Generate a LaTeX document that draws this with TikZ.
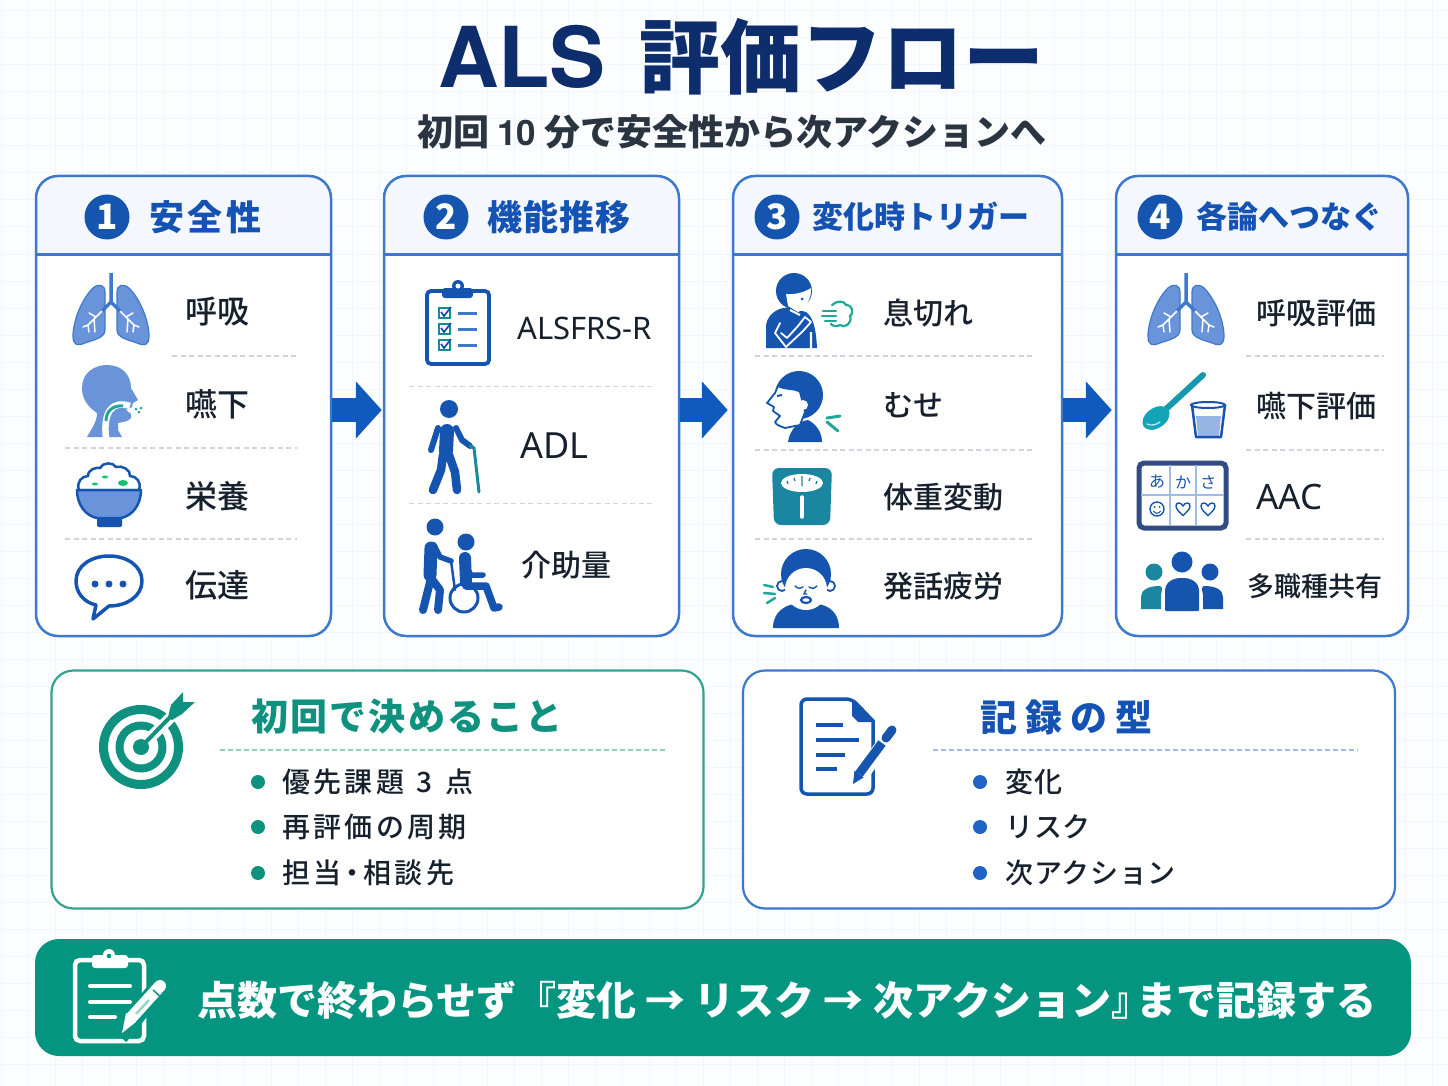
\documentclass[tikz,border=0pt]{standalone}
\usepackage{fontspec}
\setmainfont{Noto Sans CJK JP}
\newfontfamily\midfont{Noto Sans CJK JP Medium}
\newfontfamily\latinfont{Noto Sans}
\newfontfamily\herosfont{TeX Gyre Heros}
\usetikzlibrary{arrows.meta}

\definecolor{page_bg}{HTML}{FCFDFF}
\definecolor{page_grid}{HTML}{F1F5FC}
\definecolor{card_blue}{HTML}{3C79CC}
\definecolor{head_tint}{HTML}{F4F7FD}
\definecolor{head_blue}{HTML}{1453B4}
\definecolor{title_navy}{HTML}{0D2D6C}
\definecolor{body_ink}{HTML}{17212E}
\definecolor{sub_ink}{HTML}{2B3542}
\definecolor{rule_grey}{HTML}{CDD5DF}
\definecolor{flow_blue}{HTML}{1059BD}
\definecolor{icon_dark}{HTML}{1555B0}
\definecolor{icon_mid}{HTML}{6A94D9}
\definecolor{icon_teal}{HTML}{1FA898}
\definecolor{scale_teal}{HTML}{1A86A0}
\definecolor{goal_green}{HTML}{0F917F}
\definecolor{band_green}{HTML}{049581}
\definecolor{dash_green}{HTML}{8FCFC3}
\definecolor{dash_blue}{HTML}{9CBDEB}
\definecolor{dot_blue}{HTML}{1F63C4}

\newcommand{\fsize}[1]{\fontsize{#1}{#1}\selectfont}
\newcommand{\lunghalf}{
  \fill[icon_mid,draw=card_blue,line width=1.2pt] (-6,-18) .. controls (-6,-25) and (-12,-27) .. (-18,-22) .. controls (-30,-10) and (-38,12) .. (-38,26) .. controls (-38,36) and (-33,36) .. (-26,33) .. controls (-18,30) and (-6,28) .. (-6,20) -- cycle;
  \draw[white,line width=1.5pt,line cap=round] (-8,0) -- (-23,15) -- (-28,17) (-23,15) -- (-22,22) (-17,9) -- (-16,22) (-15,7) -- (-22,3);
}

\tikzset{
  lung_icon/.pic={
    \lunghalf
    \begin{scope}[xscale=-1]\lunghalf\end{scope}
    \draw[card_blue,line width=3.5pt,line join=round] (0,-37) -- (0,-8) -- (-9,1) (0,-8) -- (9,1);
  },
  throat_icon/.pic={
    \fill[icon_mid] (87,437) .. controls (92,428) and (97,422) .. (97,413) .. controls (85,405) and (82,396) .. (82,388) .. controls (82,373) and (94,365) .. (107,365) .. controls (122,365) and (131,375) .. (131,388) -- (138,400) -- (133,403) -- (132,407) -- (126,410) -- (131,414) -- (131,418) .. controls (128,422) and (122,422) .. (118,423) -- (118,430) -- (122,437) -- cycle;
    \draw[white,line width=6.5pt] (130,406) .. controls (112,400) and (103,412) .. (106,438);
    \draw[icon_teal,line width=3pt] (123,406) .. controls (113,405) and (106,411) .. (106,421);
    \fill[icon_teal] (136,409) circle[radius=1.5] (141,408) circle[radius=1.5] (139,412) circle[radius=1.5];
  },
  rice_icon/.pic={
    \draw[fill=white,draw=icon_dark,line width=2.5pt] (79,490) .. controls (76,482) and (82,476) .. (88,476) .. controls (88,469) and (97,467) .. (100,468) .. controls (103,462) and (113,462) .. (116,467) .. controls (122,465) and (131,470) .. (130,476) .. controls (136,476) and (142,482) .. (139,490) -- cycle;
    \draw[fill=icon_mid,draw=icon_dark,line width=2.5pt,line join=round] (77,490) -- (141,490) .. controls (141,505) and (132,516) .. (121,518) -- (97,518) .. controls (86,516) and (77,505) .. (77,490) -- cycle;
    \fill[icon_dark,rounded corners=1.5pt] (97,517) rectangle (122,527);
    \fill[icon_teal!70!green] (123,483) ellipse[x radius=5,y radius=3] (105,477) ellipse[x radius=3,y radius=1.5] (95,484) ellipse[x radius=3,y radius=1.5];
  },
  talk_icon/.pic={
    \draw[fill=white,draw=icon_dark,line width=3.5pt,line join=round] (96,605) .. controls (83,602) and (76,592) .. (76,581) .. controls (76,566) and (91,556) .. (109,556) .. controls (127,556) and (142,566) .. (142,581) .. controls (142,596) and (127,606) .. (109,606) -- (93,619) -- cycle;
    \fill[icon_dark] (95,584) circle[radius=3.5] (109,584) circle[radius=3.5] (123,584) circle[radius=3.5];
  },
  chart_icon/.pic={
    \draw[fill=white,draw=icon_dark,line width=3.8pt,rounded corners=4pt] (427,291) rectangle (489,364);
    \fill[icon_dark,rounded corners=3pt] (442,288) rectangle (473,298);
    \fill[icon_dark] (458,286) circle[radius=6];
    \fill[white] (458,286) circle[radius=2.5];
    \foreach \ry in {313,329,345}{
      \draw[scale_teal,line width=1.7pt] (439,\ry-5) rectangle (450,\ry+5);
      \draw[icon_dark,line width=1.8pt] (441,\ry-1) -- (444,\ry+3) -- (451,\ry-6);
      \draw[card_blue,line width=3pt] (458,\ry) -- (477,\ry);
    }
  },
  walker_icon/.pic={
    \fill[icon_dark] (449,409) circle[radius=9];
    \begin{scope}[icon_dark,line cap=round,line join=round]
      \draw[line width=14pt] (447,431) -- (446,451);
      \draw[line width=8.5pt] (443,455) -- (441,470) -- (433,490) (449,455) -- (455,472) -- (457,490);
      \draw[line width=6pt] (438,428) -- (431,450) (456,428) -- (462,440) -- (470,446);
    \end{scope}
    \draw[scale_teal,line width=3pt,line cap=round] (470,446) -- (474,448) -- (479,492);
  },
  chair_icon/.pic={
    \fill[icon_dark] (435,527) circle[radius=8.5] (466,542) circle[radius=8.5];
    \begin{scope}[icon_dark,line cap=round,line join=round]
      \draw[line width=13pt] (431,548) -- (430,575);
      \draw[line width=8pt] (431,578) -- (423,610) (431,578) -- (440,590) -- (438,610);
      \draw[line width=5.5pt] (434,545) -- (440,557) -- (451,561);
      \draw[line width=12pt] (465,558) -- (466,582);
      \draw[line width=5.5pt] (466,567) -- (471,575) -- (483,575);
      \draw[line width=7.5pt] (466,586) -- (486,586) -- (494,608) -- (499,607);
      \draw[line width=2.5pt] (451,561) -- (455,590);
    \end{scope}
    \draw[icon_dark,line width=3pt] (464,598) circle[radius=14];
  },
  breath_icon/.pic={
    \fill[icon_dark] (766,348) -- (766,325) .. controls (768,312) and (782,306) .. (790,308) -- (806,312) .. controls (814,318) and (816,330) .. (817,348) -- cycle;
    \fill[icon_dark] (794,291) circle[radius=18];
    \fill[white] (786,294) .. controls (795,295) and (805,292) .. (811,288) .. controls (812,300) and (804,310) .. (798,312) -- (788,306) -- cycle;
    \fill[icon_dark] (802,299) circle[radius=1.5];
    \draw[white,line width=2.2pt] (790,310) -- (800,315) (811,332) -- (811,348);
    \draw[white,line width=1.8pt,line join=round,line cap=round] (780,323) -- (775,333) -- (786,347) -- (803,331) -- (811,322) (781,333) -- (787,338) -- (798,326) -- (805,317) -- (811,322);
    \begin{scope}[icon_teal,line width=2.2pt,line cap=round]
      \draw (823,311) -- (836,311) (822,316) -- (836,316) (825,321) -- (836,321);
      \draw (832,305) .. controls (837,300) and (845,301) .. (846,305) .. controls (853,305) and (854,314) .. (850,316) .. controls (853,323) and (844,329) .. (840,325) .. controls (837,327) and (832,326) .. (831,324);
    \end{scope}
  },
  cough_icon/.pic={
    \fill[icon_dark] (808,442) -- (788,442) .. controls (790,428) and (800,421) .. (808,420) .. controls (816,424) and (822,432) .. (822,442) -- cycle;
    \fill[icon_dark] (799,395) circle[radius=24];
    \draw[fill=white,draw=icon_dark,line width=1.8pt,line join=round] (778,386) .. controls (785,390) and (795,388) .. (800,392) -- (805,412) -- (800,425) -- (785,428) .. controls (780,426) and (776,425) .. (775,422) -- (780,416) -- (773,411) -- (774,407) -- (767,403) -- (775,393) -- cycle;
    \fill[white] (803,405) circle[radius=5];
    \draw[icon_dark,line width=2pt] (777,396) -- (782,395);
    \draw[icon_teal,line width=3pt,line cap=round] (827,418) -- (840,416) (827,422) -- (838,431);
  },
  scale_icon/.pic={
    \fill[scale_teal,rounded corners=7pt] (772,468) -- (832,468) -- (830,525) -- (774,525) -- cycle;
    \fill[white] (802,483) ellipse[x radius=21,y radius=9];
    \draw[scale_teal,line width=1.3pt] (787,481) -- (788,484) (794,478) -- (795,481) (802,476) -- (802,486) (810,478) -- (809,481) (817,481) -- (816,484);
    \draw[white,line width=3.5pt,line cap=round] (802,497) -- (802,517);
  },
  tired_icon/.pic={
    \fill[icon_dark] (773,628) .. controls (773,612) and (785,605) .. (795,604) .. controls (800,610) and (812,610) .. (817,604) .. controls (828,605) and (839,612) .. (839,628) -- cycle;
    \draw[fill=white,draw=icon_dark,line width=1.8pt] (782,586) circle[radius=5] (830,586) circle[radius=5];
    \fill[icon_dark] (806,574) circle[radius=25];
    \fill[white] (806,589) ellipse[x radius=21,y radius=21];
    \draw[icon_dark,line width=1.4pt,line cap=round] (795,586) .. controls (798,589) and (801,589) .. (803,587) (809,587) .. controls (811,589) and (814,589) .. (817,586) (806,590) -- (804,594) -- (807,594);
    \draw[fill=white,draw=icon_dark,line width=2.2pt] (806,600) ellipse[x radius=5,y radius=3];
    \draw[icon_teal,line width=2.5pt,line cap=round] (764,585) -- (773,587) (764,593) -- (775,594) (767,603) -- (775,598);
  },
  spoon_icon/.pic={
    \draw[scale_teal!85!cyan,line width=6pt,line cap=round] (1203,375) -- (1165,410);
    \begin{scope}[shift={(1156,418)},rotate=35]
      \fill[scale_teal!75!cyan] (0,0) ellipse[x radius=15,y radius=10];
    \end{scope}
    \draw[white!70!cyan,line width=1.3pt,line cap=round] (1147,424) .. controls (1151,426) and (1156,425) .. (1160,422);
    \fill[icon_mid!70!white] (1196,416) -- (1221,416) -- (1219,436) -- (1198,436) -- cycle;
    \draw[icon_dark,line width=2.5pt,line join=round] (1192,405) -- (1196,437) -- (1221,437) -- (1225,405);
    \draw[icon_dark,fill=white,line width=2pt] (1208,405) ellipse[x radius=17,y radius=3];
  },
  heart_mark/.pic={
    \draw[icon_dark,line width=1.4pt] (0,6.5) .. controls (-4,3) and (-7,0) .. (-7,-3) .. controls (-7,-7) and (-2,-7) .. (0,-3) .. controls (2,-7) and (7,-7) .. (7,-3) .. controls (7,0) and (4,3) .. (0,6.5) -- cycle;
  },
  board_icon/.pic={
    \draw[fill=white,draw=title_navy!85!white,line width=5pt,rounded corners=5pt] (1139,463) rectangle (1226,528);
    \draw[dash_blue,line width=1.5pt] (1170,465) -- (1170,526) (1196,465) -- (1196,526) (1141,495) -- (1224,495);
    \foreach \kname/\kx/\kana in {kana_a/1157/あ,kana_ka/1183/か,kana_sa/1208/さ}
      \node[font=\fsize{16},text=icon_dark,inner sep=0pt] (\kname) at (\kx,482) {\kana};
    \draw[icon_dark,line width=1.4pt] (1157,509) circle[radius=7];
    \fill[icon_dark] (1154.5,507) circle[radius=1] (1159.5,507) circle[radius=1];
    \draw[icon_dark,line width=1.1pt] (1153.5,511) .. controls (1155,514) and (1159,514) .. (1160.5,511);
    \pic at (1183,509) {heart_mark};
    \pic at (1208,509) {heart_mark};
  },
  team_icon/.pic={
    \fill[scale_teal] (1154,572) circle[radius=8.5];
    \fill[scale_teal] (1141,609) -- (1141,597) .. controls (1141,590) and (1148,586) .. (1160,586) .. controls (1163,587) and (1162,590) .. (1161,595) -- (1161,609) -- cycle;
    \fill[icon_dark] (1210,572) circle[radius=8.5];
    \fill[icon_dark] (1223,609) -- (1223,597) .. controls (1223,590) and (1216,586) .. (1204,586) .. controls (1201,587) and (1202,590) .. (1203,595) -- (1203,609) -- cycle;
    \fill[icon_dark] (1182,562) circle[radius=10.5];
    \fill[icon_dark,rounded corners=1pt] (1165,611) -- (1165,592) .. controls (1165,582) and (1173,578) .. (1182,578) .. controls (1191,578) and (1199,582) .. (1199,592) -- (1199,611) -- cycle;
  },
  target_icon/.pic={
    \draw[goal_green,line width=9pt] (141,747) circle[radius=37.5];
    \draw[goal_green,line width=8pt] (141,747) circle[radius=21.5];
    \draw[white,line width=11pt] (150,738) -- (184,704);
    \fill[goal_green] (141,747) circle[radius=8];
    \draw[goal_green,line width=4pt] (141,747) -- (175,712);
    \fill[goal_green] (168,717) -- (171,705) -- (183,692) -- (183,702) -- (195,702) -- (182,714) -- (172,720) -- cycle;
  },
  record_icon/.pic={
    \draw[icon_dark,line width=3.5pt,rounded corners=6pt] (874,722) -- (852,699) -- (801,699) -- (801,794) -- (873,794) -- (873,722);
    \fill[icon_dark] (852,699) -- (874,722) -- (858,722) -- (852,716) -- cycle;
    \draw[icon_dark,line width=3.5pt] (816,725) -- (843,725) (816,740) -- (859,740) (816,755) -- (845,755) (816,769) -- (837,769);
    \draw[white,line width=15pt] (856,782) -- (894,730);
    \draw[icon_dark,line width=9pt] (859,774) -- (882,743);
    \fill[icon_dark] (854.5,770.5) -- (863.5,777.5) -- (853,784) -- cycle;
    \draw[icon_dark,line width=9pt,line cap=round] (886,738) -- (892,730);
  },
  note_icon/.pic={
    \draw[white,line width=4.5pt,rounded corners=5pt] (92,960) -- (75,960) -- (75,1041) -- (144,1041) -- (144,960) -- (128,960);
    \fill[white,rounded corners=3pt] (92,955) rectangle (128,968);
    \fill[white] (109,955) circle[radius=6];
    \fill[band_green] (109,956) circle[radius=2.3];
    \draw[white,line width=4pt,line cap=round] (90,986) -- (130,986) (90,1002) -- (130,1002) (90,1017) -- (115,1017);
    \draw[band_green,line width=19pt] (119,1036) -- (160,986);
    \draw[white,line width=12pt,line cap=round] (132,1017) -- (160,986);
    \fill[white] (126,1013) -- (136,1022) -- (122,1033) -- cycle;
    \draw[band_green!40!white,line width=2.5pt] (136,1014) -- (149,1000);
    \draw[band_green,line width=1.5pt] (153,990) -- (162,998);
  },
}

\begin{document}
\begin{tikzpicture}[x=1pt,y=-1pt,
    card/.style={rectangle, draw=card_blue, line width=2.5pt, rounded corners=22pt,
      inner sep=0pt, minimum height=460pt},
    panel/.style={rectangle, draw=#1, line width=2.2pt, rounded corners=22pt, fill=white,
      inner sep=0pt, minimum width=652pt, minimum height=238pt},
    badge/.style={circle, fill=icon_dark, text=white, font=\bfseries\fsize{35},
      inner sep=0pt, minimum size=45pt},
    head_text/.style={text=head_blue, anchor=west, inner sep=0pt, font=\bfseries\fsize{#1}},
    row_text/.style={text=body_ink, anchor=west, inner sep=0pt, font=\midfont\fsize{#1}},
    item_text/.style={text=body_ink, anchor=west, inner sep=0pt, font=\midfont\fsize{28}\addfontfeature{LetterSpace=#1}},
    flow_line/.style={draw=flow_blue, line width=24pt, shorten >=1pt,
      -{Triangle[length=26pt,width=56pt]}}]
    % page and grid
    \fill[page_bg] (0,0) rectangle (1448,1086);
    \useasboundingbox (0,0) rectangle (1448,1086);
    \foreach \gx in {0,...,53} \draw[page_grid,line width=1pt] (1+27*\gx,0) -- (1+27*\gx,1086);
    \foreach \gy in {0,...,39} \draw[page_grid,line width=1pt] (0,11+27*\gy) -- (1448,11+27*\gy);
    % heading
    \node[inner sep=0pt, text=title_navy, font=\bfseries\fsize{81}] (title) at (741,57)
      {{\herosfont\bfseries\fsize{84}ALS}\hspace{33pt}評価フロー};
    \node[inner sep=0pt, text=sub_ink, font=\bfseries\fsize{36}] (subtitle) at (732,132) {初回 {\herosfont\bfseries\fsize{35}10} 分で安全性から次アクションへ};
    % four cards
    \foreach \cname/\xa/\xb in {card_a/36/331,card_b/384/679,card_c/733/1062,card_d/1116/1408}{
      \fill[white,rounded corners=22pt] (\xa,176) rectangle (\xb,636);
      \fill[head_tint] (\xa,254) [rounded corners=22pt] -- (\xa,176) -- (\xb,176) [sharp corners] -- (\xb,254) -- cycle;
      \node[card, minimum width={\xb-\xa}] (\cname) at ({(\xa+\xb)/2},406) {};
      \draw[card_blue,line width=3pt] (\xa,254.5) -- (\xb,254.5);
    }
    % card headers
    \foreach \bname/\bx/\bnum in {badge_a/107/1,badge_b/446/2,badge_c/777/3,badge_d/1160/4}
      \node[badge] (\bname) at (\bx,217) {\bnum};
    \node[head_text=35] (head_a) at (149,217) {\addfontfeature{LetterSpace=10}安全性};
    \node[head_text=35] (head_b) at (487,217) {\addfontfeature{LetterSpace=3}機能推移};
    \node[head_text=31] (head_c) at (812,217) {変化時トリガー};
    \node[head_text=31] (head_d) at (1196,217) {各論へつなぐ};
    % arrows between cards
    \draw[flow_line] ([yshift=-4pt]card_a.east) -- ([yshift=-4pt]card_b.west);
    \draw[flow_line,shorten >=4pt] ([yshift=-4pt]card_b.east) -- ([yshift=-4pt]card_c.west);
    \draw[flow_line,shorten >=3pt] ([yshift=-4pt]card_c.east) -- ([yshift=-4pt]card_d.west);
    % row separators
    \foreach \ra/\rb/\ry in {172/297/356,65/297/448,65/297/539,409/652/386.5,409/652/503.5,
        755/1033/356,755/1033/450,755/1033/539,1246/1384/356,1246/1384/450,1246/1384/539}
      \draw[rule_grey,line width=1.3pt,dash pattern=on 5pt off 3.5pt] (\ra,\ry) -- (\rb,\ry);
    % row labels
    \foreach \lname/\lx/\ly/\lsize/\ltext in {
        lbl_a/185/312/32/呼吸,lbl_b/185/404/32/嚥下,lbl_c/185/496/32/栄養,lbl_d/185/585/32/伝達,
        lbl_e/517/328/31/{\latinfont ALSFRS-R},lbl_f/520/446/36/{\latinfont ADL},lbl_g/521/565/30/介助量,
        lbl_h/883/313/30/息切れ,lbl_i/883/405/30/むせ,lbl_j/883/497/30/体重変動,lbl_k/883/586/30/発話疲労,
        lbl_l/1256/313/30/呼吸評価,lbl_m/1256/406/30/嚥下評価,lbl_n/1256/497/35/{\latinfont AAC},lbl_o/1247/586/27/多職種共有}
      \node[row_text=\lsize] (\lname) at (\lx,\ly) {\ltext};
    % icons
    \pic at (111,310) {lung_icon};
    \pic {throat_icon};
    \pic {rice_icon};
    \pic {talk_icon};
    \pic {chart_icon};
    \pic {walker_icon};
    \pic {chair_icon};
    \pic {breath_icon};
    \pic {cough_icon};
    \pic {scale_icon};
    \pic {tired_icon};
    \pic at (1186,310) {lung_icon};
    \pic {spoon_icon};
    \pic {board_icon};
    \pic {team_icon};
    % lower panels
    \node[panel=goal_green!85!white] (panel_goal) at (377.5,789.5) {};
    \node[panel=card_blue] (panel_record) at (1069,789.5) {};
    \pic {target_icon};
    \pic {record_icon};
    \node[inner sep=0pt, anchor=west, text=goal_green, font=\bfseries\fsize{37}\addfontfeature{LetterSpace=6}] (goal_head) at (251,717) {初回で決めること};
    \node[inner sep=0pt, anchor=west, text=head_blue, font=\bfseries\fsize{37}\addfontfeature{LetterSpace=22}] (record_head) at (980,717) {記録の型};
    \draw[dash_green,line width=1.4pt,dash pattern=on 5pt off 3pt] (220,750) -- (666,750);
    \draw[dash_blue,line width=1.4pt,dash pattern=on 5pt off 3pt] (933,750) -- (1358,750);
    \foreach \iy in {782,827,873}{
      \fill[goal_green] (258,\iy) circle[radius=7];
      \fill[dot_blue] (980,\iy) circle[radius=7];
    }
    \foreach \iname/\ix/\iy/\ispace/\itext in {item_a/282/782/12/優先課題\hspace{3pt} 3\hspace{3pt} 点,item_b/282/827/12/再評価の周期,item_c/282/873/12/担当\hspace{-3pt}・\hspace{-3pt}相談先,
        item_d/1005/782/3/変化,item_e/1005/827/3/リスク,item_f/1005/873/3/次アクション}
      \node[item_text=\ispace] (\iname) at (\ix,\iy) {\itext};
    % closing band
    \node[rectangle, fill=band_green, rounded corners=24pt, inner sep=0pt,
      minimum width=1376pt, minimum height=117pt] (band) at (723,997.5) {};
    \pic {note_icon};
    \node[inner sep=0pt, anchor=west, text=white, font=\bfseries\fsize{40}] (band_text) at (197,1000) {点数で終わらせず『変化 → リスク → 次アクション』\hspace{-15pt}まで記録する};
\end{tikzpicture}
\end{document}
